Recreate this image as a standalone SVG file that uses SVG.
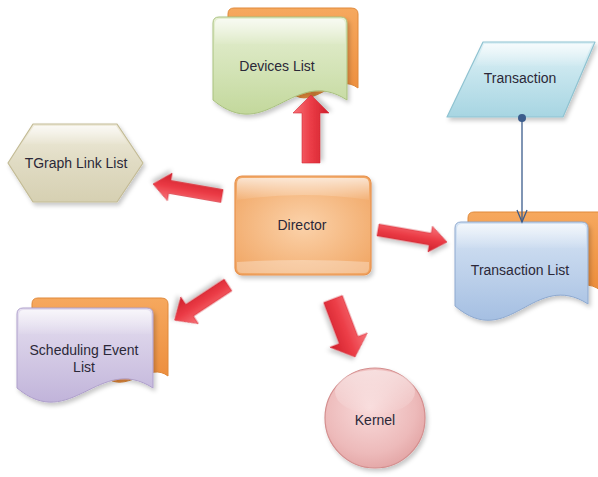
<svg xmlns="http://www.w3.org/2000/svg" width="598" height="477" viewBox="0 0 598 477">
<defs>
<style>
text{font-family:"Liberation Sans",Arial,sans-serif;font-size:14px;fill:#2b2838;text-anchor:middle;dominant-baseline:central}
.back{fill:url(#gOrange);stroke:#e0893a;stroke-width:1}
.arrow{fill:url(#gRed);stroke:#d42a35;stroke-width:0.6;filter:url(#sh)}
</style>
<filter id="sh" x="-20%" y="-20%" width="150%" height="150%"><feDropShadow dx="2" dy="3" stdDeviation="2" flood-color="#000" flood-opacity="0.22"/></filter>
<linearGradient id="gOrange" x1="0" y1="0" x2="0" y2="1"><stop offset="0" stop-color="#f6a85e"/><stop offset="1" stop-color="#ec8d3c"/></linearGradient>
<linearGradient id="gGreen" x1="0" y1="0" x2="0" y2="1"><stop offset="0" stop-color="#e6efd3"/><stop offset="0.55" stop-color="#d3e3b6"/><stop offset="1" stop-color="#c3d89c"/></linearGradient>
<linearGradient id="gBlue" x1="0" y1="0" x2="0" y2="1"><stop offset="0" stop-color="#d6e4f4"/><stop offset="0.55" stop-color="#bcd0ea"/><stop offset="1" stop-color="#a5bfe2"/></linearGradient>
<linearGradient id="gPurple" x1="0" y1="0" x2="0" y2="1"><stop offset="0" stop-color="#e6e0f0"/><stop offset="0.55" stop-color="#d2c8e4"/><stop offset="1" stop-color="#c1b4da"/></linearGradient>
<linearGradient id="gBeige" x1="0" y1="0" x2="0" y2="1"><stop offset="0" stop-color="#efebdb"/><stop offset="0.5" stop-color="#e0dbc3"/><stop offset="1" stop-color="#d6d0b2"/></linearGradient>
<linearGradient id="gCyan" x1="0" y1="0" x2="0" y2="1"><stop offset="0" stop-color="#dff1f6"/><stop offset="0.5" stop-color="#c2e3ec"/><stop offset="1" stop-color="#a7d5e2"/></linearGradient>
<radialGradient id="gDir" cx="0.5" cy="0.5" r="0.7"><stop offset="0" stop-color="#fbd2aa"/><stop offset="1" stop-color="#f0a35f"/></radialGradient>
<radialGradient id="gKernel" cx="0.45" cy="0.4" r="0.65"><stop offset="0" stop-color="#f8dada"/><stop offset="0.7" stop-color="#edbaba"/><stop offset="1" stop-color="#e2a3a3"/></radialGradient>
<linearGradient id="gRed" x1="0" y1="0" x2="0" y2="1"><stop offset="0" stop-color="#f8747a"/><stop offset="0.5" stop-color="#eb3c46"/><stop offset="1" stop-color="#cf1f2b"/></linearGradient>
<linearGradient id="gGloss" x1="0" y1="0" x2="0" y2="1"><stop offset="0" stop-color="#fff" stop-opacity="0.7"/><stop offset="1" stop-color="#fff" stop-opacity="0.05"/></linearGradient>
</defs>
<rect width="598" height="477" fill="#ffffff"/>

<g id="devices-list">
<path class="back" d="M234,8 H351 Q358,8 358,14 V88 C337,72 317,106 296,96 H240 Q228,96 228,90 V14 Q228,8 234,8 Z"/>
<path d="M219,17 H341 Q347,17 347,23 V100 C293,65 267,145 213,100 V23 Q213,17 219,17 Z" fill="url(#gGreen)" stroke="#a9c17f" stroke-width="1" filter="url(#sh)"/>
<path d="M220,19 H340 Q345,19 345,24 V44 H215 V24 Q215,19 220,19 Z" fill="url(#gGloss)"/>
<text x="277" y="66">Devices List</text>
</g>

<g id="tgraph-link-list">
<polygon points="8,163 33,124 117,124 143,163 117,202 33,202" fill="url(#gBeige)" stroke="#c3bb95" stroke-width="1.2" stroke-linejoin="round" filter="url(#sh)"/>
<polygon points="22,144 34,126 116,126 128,144" fill="url(#gGloss)"/>
<text x="76" y="163">TGraph Link List</text>
</g>

<g id="transaction">
<polygon points="483,42 595,42 563,117 447,117" fill="url(#gCyan)" stroke="#8fc3d1" stroke-width="1.2" stroke-linejoin="round" filter="url(#sh)"/>
<polygon points="484,44 592,44 582,66 475,66" fill="url(#gGloss)"/>
<text x="520" y="78">Transaction</text>
</g>

<g id="director">
<rect x="235" y="176" width="136" height="99" rx="7" fill="url(#gDir)" stroke="#e8914c" stroke-width="1.2" filter="url(#sh)"/>
<path d="M242,178 H364 Q369,178 369,184 V200 Q303,190 237,200 V184 Q237,178 242,178 Z" fill="url(#gGloss)"/>
<path d="M237,262 Q303,258 369,262 V268 Q369,273 364,273 H242 Q237,273 237,268 Z" fill="#fff" opacity="0.3"/>
<text x="302" y="225">Director</text>
</g>

<g id="transaction-list">
<path class="back" d="M474,212 H600 V290 C580,275 560,300 540,290 H480 Q468,290 468,284 V218 Q468,212 474,212 Z"/>
<path d="M461,222 H582 Q588,222 588,228 V304 C534,269 509,352 455,306 V228 Q455,222 461,222 Z" fill="url(#gBlue)" stroke="#8ea9cf" stroke-width="1" filter="url(#sh)"/>
<path d="M462,224 H581 Q586,224 586,229 V248 H457 V229 Q457,224 462,224 Z" fill="url(#gGloss)"/>
<text x="520" y="270">Transaction List</text>
</g>

<g id="scheduling-event-list">
<path class="back" d="M38,298 H161 Q168,298 168,304 V376 C150,362 130,390 110,380 H44 Q32,380 32,374 V304 Q32,298 38,298 Z"/>
<path d="M23,308 H147 Q153,308 153,314 V388 C99,353 71,433 17,388 V314 Q17,308 23,308 Z" fill="url(#gPurple)" stroke="#ae9fcb" stroke-width="1" filter="url(#sh)"/>
<path d="M24,310 H146 Q151,310 151,315 V334 H19 V315 Q19,310 24,310 Z" fill="url(#gGloss)"/>
<text x="84" y="350">Scheduling Event</text>
<text x="84" y="367">List</text>
</g>

<g id="kernel">
<circle cx="375" cy="418" r="50" fill="url(#gKernel)" stroke="#d48e8e" stroke-width="1.2" filter="url(#sh)"/>
<ellipse cx="375" cy="392" rx="40" ry="22" fill="url(#gGloss)" opacity="0.7"/>
<text x="375" y="420">Kernel</text>
</g>

<g id="connectors">
<g id="arr-devices" transform="translate(311,163) rotate(-90)"><polygon class="arrow" points="0,-9 50,-9 50,-18 68,0 50,18 50,9 0,9"/></g>
<g id="arr-translist" transform="translate(378,230) rotate(9.9)"><polygon class="arrow" points="0,-6 53,-6 53,-13 70,0 53,13 53,6 0,6"/></g>
<g id="arr-tgraph" transform="translate(222,196) rotate(189.9)"><polygon class="arrow" points="0,-6.5 53,-6.5 53,-14 70,0 53,14 53,6.5 0,6.5"/></g>
<g id="arr-sched" transform="translate(228,285) rotate(146.6)"><polygon class="arrow" points="0,-7 46,-7 46,-16 64,0 46,16 46,7 0,7"/></g>
<g id="arr-kernel" transform="translate(333,299) rotate(69.2)"><polygon class="arrow" points="0,-10 44,-10 44,-20 62,0 44,20 44,10 0,10"/></g>
<g id="link-trans" stroke="#3b5c8c" stroke-width="1.3" fill="none">
<line x1="522" y1="118" x2="522" y2="222"/>
<polyline points="517,210 522,222 527,210"/>
<circle cx="522" cy="118" r="4" fill="#3b5c8c" stroke="none"/>
</g>
</g>
</svg>
